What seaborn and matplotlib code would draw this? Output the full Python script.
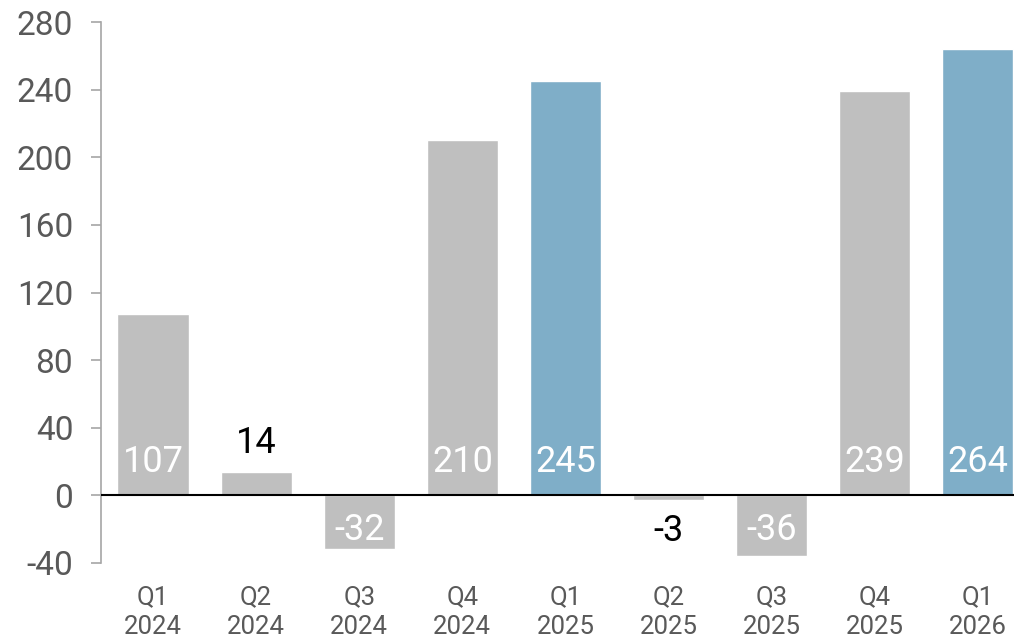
import matplotlib
matplotlib.use("Agg")
import matplotlib.pyplot as plt
import seaborn as sns
import pandas as pd

quarters = ["Q1\n2024", "Q2\n2024", "Q3\n2024", "Q4\n2024", "Q1\n2025",
            "Q2\n2025", "Q3\n2025", "Q4\n2025", "Q1\n2026"]
values = [107, 14, -32, 210, 245, -3, -36, 239, 264]
highlight = [False, False, False, False, True, False, False, False, True]
y_ticks = [-40, 0, 40, 80, 120, 160, 200, 240, 280]

GRAY = "#bfbfbf"
BLUE = "#7faec8"
TEXT = "#595959"

sns.set_theme(style="white")
plt.rcParams["font.family"] = ["Roboto", "DejaVu Sans"]

df = pd.DataFrame({"quarter": quarters, "value": values,
                   "group": ["hi" if h else "base" for h in highlight]})

fig = plt.figure(figsize=(10.22, 6.44), dpi=100)
ax = fig.add_axes([0.0988, 0.1258, 0.8933, 0.84])

sns.barplot(data=df, x="quarter", y="value", hue="group",
            palette={"base": GRAY, "hi": BLUE}, dodge=False,
            width=0.69, legend=False, saturation=1, ax=ax)

ax.set_ylim(-40, 280)
ax.set_xlim(-0.505, 8.35)
ax.set_yticks(y_ticks)
ax.set_yticklabels([str(t) for t in y_ticks])
ax.axhline(0, color="black", lw=1.5, zorder=3)

for s in ["top", "right", "bottom"]:
    ax.spines[s].set_visible(False)
ax.spines["left"].set_color("#a6a6a6")
ax.spines["left"].set_linewidth(1.2)
ax.spines["left"].set_bounds(-40, 280)

ax.tick_params(axis="y", left=True, length=7, width=1.2, color="#a6a6a6",
               labelsize=24, labelcolor=TEXT, pad=13)
ax.tick_params(axis="x", bottom=False, labelsize=18.5, labelcolor=TEXT, pad=10)
for lbl in ax.get_xticklabels():
    lbl.set_linespacing(1.3)
ax.set_xlabel("")
ax.set_ylabel("")

# value labels: inside the bar near the baseline when it fits, otherwise beyond the bar end
for i, v in enumerate(values):
    if abs(v) >= 25:
        off = 24 if v > 0 else -25
        ax.annotate(str(v), xy=(i, 0), xytext=(0, off), textcoords="offset points",
                    ha="center", va="center", color="white", fontsize=26, zorder=4)
    else:
        off = 21 if v > 0 else -22
        ax.annotate(str(v), xy=(i, v), xytext=(0, off), textcoords="offset points",
                    ha="center", va="center", color="black", fontsize=26, zorder=4)

fig.savefig("out.png", dpi=100)
